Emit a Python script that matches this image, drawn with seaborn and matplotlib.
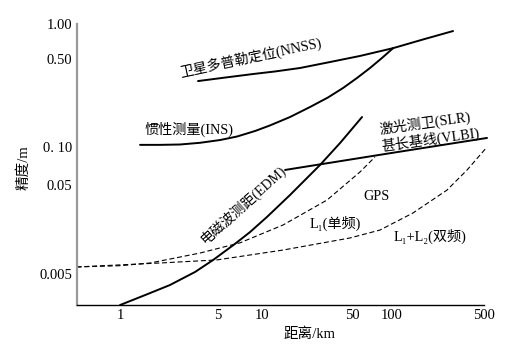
import numpy as np
import pandas as pd
import matplotlib
matplotlib.use("Agg")
import matplotlib.pyplot as plt
import seaborn as sns

# ---------------- data ----------------
x_ticks = [1, 5, 10, 50, 100, 500]
x_tick_labels = ["1", "5", "10", "50", "100", "500"]
y_ticks = [0.005, 0.05, 0.10, 0.50, 1.00]
y_tick_labels = ["0.005", "0.05", "0. 10", "0.50", "1.00"]

nnss_x = [3.6, 5.58, 8.7, 12.6, 19.7, 33.7, 57.4, 102, 172, 291]
nnss_y = [0.334, 0.356, 0.380, 0.398, 0.424, 0.473, 0.531, 0.62, 0.736, 0.870]

ins_x = [1.39, 1.93, 2.68, 3.72, 5.16, 6.74, 8.96, 11.5, 16.5, 23.6, 32.5,
         42.6, 54.5, 68.3, 84.0, 102]
ins_y = [0.104, 0.104, 0.1047, 0.108, 0.1136, 0.1211, 0.134, 0.1482, 0.173,
         0.2078, 0.2472, 0.2942, 0.3532, 0.424, 0.510, 0.62]

edm_x = [1.0, 1.51, 2.27, 3.43, 4.61, 6.53, 8.28, 10.9, 16.5, 28.2, 40.4, 59.5]
edm_y = [0.00224, 0.0029, 0.00376, 0.00527, 0.00718, 0.0109, 0.0148,
         0.0218, 0.0386, 0.0720, 0.1076, 0.173]

slr_x = [15.1, 88.5, 527]
slr_y = [0.0658, 0.088, 0.118]

l1_x = [0.49, 1.0, 1.64, 3.72, 7.07, 14.6, 32.0, 57.4, 74.4]
l1_y = [0.0060, 0.0062, 0.00665, 0.0086, 0.0112, 0.0178, 0.0339, 0.0634, 0.0833]

l12_x = [0.49, 1.93, 4.92, 14.6, 48.2, 81.2, 144, 262, 372, 527]
l12_y = [0.0060, 0.00665, 0.0072, 0.0093, 0.0127, 0.0156, 0.0242, 0.0439,
         0.0658, 0.100]

# ---------------- axis scales (as drawn in the original) ----------------
X_LOG = [-1.0, 0.0, np.log10(5), 1.0, np.log10(50), 2.0, np.log10(500), 3.5]
X_POS = [-97.2, 43, 141, 185, 275, 315, 407, 512.4]
Y_LOG = [-3.5, np.log10(0.005), np.log10(0.05), -1.0, np.log10(0.5), 0.0, 1.0]
Y_POS = [-75.7, 31, 120, 158, 246, 281, 397.3]


def _fwd(lg, pos):
    def f(v):
        v = np.asarray(v, dtype=float)
        l = np.log10(np.clip(v, 1e-12, None))
        return np.interp(l, lg, pos)
    return f


def _inv(lg, pos):
    def f(u):
        u = np.asarray(u, dtype=float)
        return 10 ** np.interp(u, pos, lg)
    return f


sns.set_style("white")
plt.rcParams["font.family"] = ["Liberation Serif", "Noto Sans CJK SC", "DejaVu Serif"]
plt.rcParams["axes.unicode_minus"] = False

W, H = 519, 350
fig = plt.figure(figsize=(W / 100, H / 100), dpi=100)
ax = fig.add_axes([77 / W, 45 / H, 407 / W, 281 / H])
ax.set_xscale("function", functions=(_fwd(X_LOG, X_POS), _inv(X_LOG, X_POS)))
ax.set_yscale("function", functions=(_fwd(Y_LOG, Y_POS), _inv(Y_LOG, Y_POS)))

solid_lw = 1.4
dash_lw = 0.8
for xs, ys in [(nnss_x, nnss_y), (ins_x, ins_y), (edm_x, edm_y), (slr_x, slr_y)]:
    sns.lineplot(x=xs, y=ys, ax=ax, color="black", lw=solid_lw, sort=False,
                 estimator=None)
for xs, ys in [(l1_x, l1_y), (l12_x, l12_y)]:
    sns.lineplot(x=xs, y=ys, ax=ax, color="black", lw=dash_lw, sort=False,
                 estimator=None, dashes=False, linestyle=(0, (4.5, 2.5)))
for ln in ax.lines:
    ln.set_clip_on(False)
    ln.set_solid_joinstyle("round")
    ln.set_dash_joinstyle("round")

ax.set_xlim(0.4935, 500)
ax.set_ylim(0.002243, 1.0)
ax.set_xticks(x_ticks)
ax.set_xticklabels(x_tick_labels)
ax.set_yticks(y_ticks)
ax.set_yticklabels(y_tick_labels)
ax.xaxis.set_minor_locator(matplotlib.ticker.NullLocator())
ax.yaxis.set_minor_locator(matplotlib.ticker.NullLocator())
ax.tick_params(axis="both", which="major", direction="in", length=3.5,
               width=0.9, color="black", labelsize=10.5, labelcolor="black")
ax.tick_params(axis="x", pad=3)
ax.tick_params(axis="y", pad=3.5)

for s in ["top", "right"]:
    ax.spines[s].set_visible(False)
ax.spines["left"].set_color("#9a9a9a")
ax.spines["left"].set_linewidth(1.6)
ax.spines["bottom"].set_color("black")
ax.spines["bottom"].set_linewidth(1.0)
ax.set_xlabel("")
ax.set_ylabel("")


def ftext(px, py, s, rot=0, size=10):
    fig.text(px / W, 1 - py / H, s, rotation=rot, rotation_mode="anchor",
             ha="center", va="center", fontsize=size, color="black",
             fontweight="light")


ftext(310, 334, "距离/km", size=10.5)
ftext(24, 168, "精度/m", rot=90, size=10.5)
ftext(251, 57, "卫星多普勒定位(NNSS)", rot=12, size=10.2)
ftext(189, 129, "惯性测量(INS)", size=10.2)
ftext(425, 123, "激光测卫(SLR)", rot=8, size=10.2)
ftext(430, 140, "甚长基线(VLBI)", rot=8, size=10.2)
ftext(243, 205, "电磁波测距(EDM)", rot=42, size=10)
ftext(377, 196, "GPS", size=10.2)
ftext(335, 223, "L\u2081(单频)", size=10.2)
ftext(430, 236, "L\u2081+L\u2082(双频)", size=10.2)

fig.savefig("out.png", dpi=100, facecolor="white")
